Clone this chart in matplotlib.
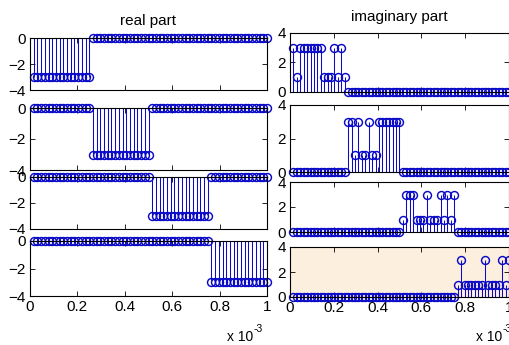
import numpy as np
import matplotlib
matplotlib.use("Agg")
import matplotlib.pyplot as plt
from matplotlib.ticker import FuncFormatter

plt.rcParams['font.family'] = ['Liberation Sans', 'DejaVu Sans']

W, H = 510, 345

# sample times: 64 samples, period 1/64 ms, ending at 1e-3 s
t = np.arange(1, 65) / 64 * 1e-3

# real part of each of the four signals (one block of 16 samples at -3)
real_1 = [-3] * 16 + [0] * 48
real_2 = [0] * 16 + [-3] * 16 + [0] * 32
real_3 = [0] * 32 + [-3] * 16 + [0] * 16
real_4 = [0] * 48 + [-3] * 16

# imaginary part values inside each active block
imag_blk_1 = [3, 1, 3, 3, 3, 3, 3, 3, 3, 1, 1, 1, 3, 1, 3, 1]
imag_blk_2 = [3, 3, 1, 3, 1, 1, 3, 1, 1, 3, 3, 3, 3, 3, 3, 3]
imag_blk_3 = [1, 3, 3, 3, 1, 1, 1, 3, 1, 1, 1, 3, 1, 3, 1, 3]
imag_blk_4 = [1, 3, 1, 1, 1, 1, 1, 1, 3, 1, 1, 1, 1, 3, 1, 3]

imag_1 = imag_blk_1 + [0] * 48
imag_2 = [0] * 16 + imag_blk_2 + [0] * 32
imag_3 = [0] * 32 + imag_blk_3 + [0] * 16
imag_4 = [0] * 48 + imag_blk_4

real_series = [real_1, real_2, real_3, real_4]
imag_series = [imag_1, imag_2, imag_3, imag_4]

xticks = [0, 0.2e-3, 0.4e-3, 0.6e-3, 0.8e-3, 1e-3]
real_yticks = [-4, -2, 0]
imag_yticks = [0, 2, 4]

left_x = (30, 267)
right_x = (290, 509)
left_rows = [(38, 90), (108, 170), (177, 229), (241, 296)]
right_rows = [(33, 92), (105, 172), (182, 232), (247, 297)]

BLUE = '#0a0ac8'


def rect(xr, yr):
    x0, x1 = xr
    yt, yb = yr
    return [x0 / W, 1 - yb / H, (x1 - x0) / W, (yb - yt) / H]


fig = plt.figure(figsize=(W / 100, H / 100), dpi=100)

fmt = FuncFormatter(lambda v, p: ('%g' % round(v * 1e3, 6)))


def draw(ax, vals, ylim, yticks, last, face='white'):
    ax.set_facecolor(face)
    ml, sl, bl = ax.stem(t, vals, linefmt='-', markerfmt='o', basefmt=' ')
    plt.setp(sl, linewidth=0.75, color=BLUE)
    ml.set_color(BLUE)
    ml.set_markerfacecolor('none')
    ml.set_markeredgecolor(BLUE)
    ml.set_markersize(5.7)
    ml.set_markeredgewidth(1.05)
    ml.set_clip_on(False)
    ax.set_xlim(0, 1e-3)
    ax.set_ylim(*ylim)
    ax.set_yticks(yticks)
    ax.set_xticks(xticks)
    ax.xaxis.set_major_formatter(fmt)
    ax.tick_params(direction='in', length=3.5, width=0.6, top=True, right=True,
                   labelsize=11, pad=3)
    if not last:
        ax.tick_params(labelbottom=False)
    for s in ax.spines.values():
        s.set_linewidth(0.8)


for i in range(4):
    axl = fig.add_axes(rect(left_x, left_rows[i]))
    draw(axl, real_series[i], (-4, 0), real_yticks, i == 3)
    if i == 0:
        axl.set_title('real part', fontsize=11, pad=9)
    axr = fig.add_axes(rect(right_x, right_rows[i]))
    draw(axr, imag_series[i], (0, 4), imag_yticks, i == 3,
         face='#FCEFDE' if i == 3 else 'white')
    if i == 0:
        axr.set_title('imaginary part', fontsize=11, pad=9)

# "x 10^-3" exponent notes below each bottom axis
for xr in (253, 502):
    fig.text(xr / W, 1 - 337 / H, 'x 10', fontsize=10, ha='right', va='center')
    fig.text((xr + 1) / W, 1 - 329 / H, '-3', fontsize=7.5, ha='left', va='center')

fig.savefig('out.png', dpi=100)
